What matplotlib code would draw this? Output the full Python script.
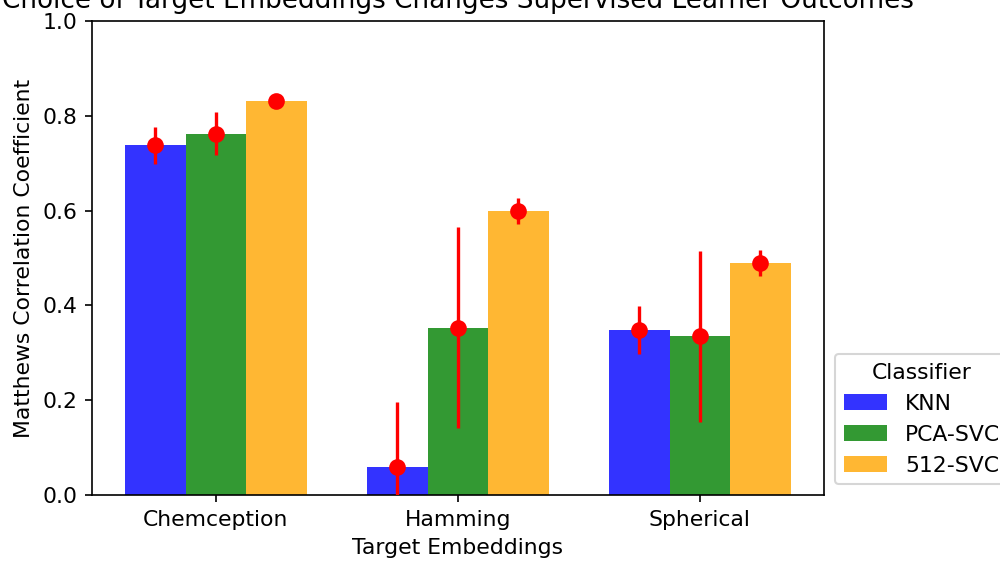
import numpy as np
import matplotlib
matplotlib.use('Agg')
import matplotlib.pyplot as plt


categories = ['Chemception', 'Hamming', 'Spherical']
classifiers = ['KNN', 'PCA-SVC', '512-SVC']

knn = [0.738, 0.060, 0.348]
knn_err = [0.039, 0.137, 0.050]
pca_svc = [0.762, 0.353, 0.335]
pca_svc_err = [0.046, 0.212, 0.180]
svc_512 = [0.831, 0.599, 0.489]
svc_512_err = [0.006, 0.028, 0.027]

colors = ['blue', 'green', 'orange']

plt.rcParams['font.size'] = 10.5

DPI = 150
fig = plt.figure(figsize=(1000 / DPI, 561 / DPI), dpi=DPI)
ax = fig.add_axes([0.0917, 0.1171, 0.7323, 0.846])

x = np.arange(len(categories))
width = 0.25
series = [(knn, knn_err), (pca_svc, pca_svc_err), (svc_512, svc_512_err)]

for i, (vals, errs) in enumerate(series):
  pos = x + (i - 1) * width
  ax.bar(pos, vals, width, color=colors[i], alpha=0.8, label=classifiers[i])
  ax.errorbar(pos, vals, yerr=errs, fmt='o', color='red', markersize=7,
              elinewidth=1.6, capsize=0, zorder=3)

ax.set_xticks(x)
ax.set_xticklabels(categories)
ax.set_xlim(-0.513, 2.513)
ax.set_ylim(0, 1.0)
ax.set_xlabel('Target Embeddings')
ax.set_ylabel('Matthews Correlation Coefficient')
ax.set_title('Choice of Target Embeddings Changes Supervised Learner Outcomes', fontsize=12.6)
ax.legend(title='Classifier', loc='lower left', bbox_to_anchor=(1, 0))

fig.savefig('out.png', dpi=DPI)
